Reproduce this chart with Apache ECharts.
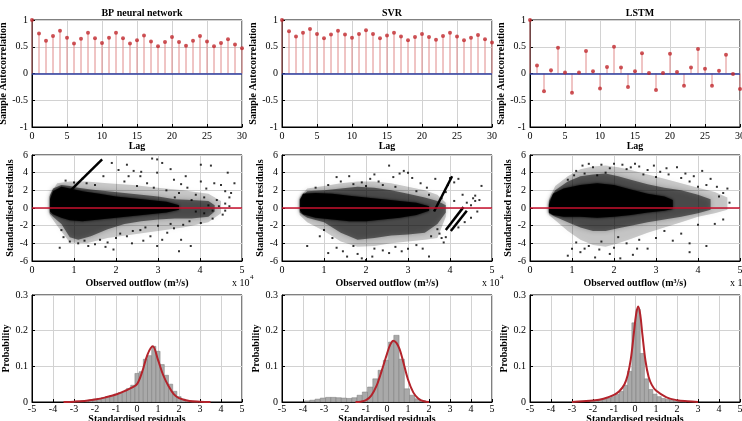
<!DOCTYPE html>
<html>
<head>
<meta charset="utf-8">
<script src="https://cdn.jsdelivr.net/npm/echarts@6/dist/echarts.min.js"></script>
<style>
  html, body { margin: 0; padding: 0; background: #fff; }
  #main { width: 742px; height: 421px; }
</style>
</head>
<body>
<div id="main"></div>
<script>
// model names (panel titles)
const models = ['BP neural network', 'SVR', 'LSTM']

// row 1: sample autocorrelation by lag
const lags = [0,1,2,3,4,5,6,7,8,9,10,11,12,13,14,15,16,17,18,19,20,21,22,23,24,25,26,27,28,29,30]
const acfBP = [1,0.75,0.61,0.70,0.80,0.67,0.56,0.65,0.76,0.66,0.57,0.67,0.76,0.66,0.56,0.62,0.71,0.60,0.51,0.59,0.68,0.59,0.52,0.61,0.70,0.60,0.51,0.57,0.64,0.54,0.47]
const acfSVR = [1,0.79,0.69,0.76,0.83,0.74,0.66,0.73,0.80,0.73,0.67,0.74,0.81,0.74,0.66,0.71,0.76,0.69,0.62,0.68,0.74,0.68,0.63,0.70,0.76,0.69,0.62,0.67,0.72,0.64,0.58]
const acfLSTM = [1,0.15,-0.33,0.06,0.48,0.02,-0.36,0.02,0.42,0.04,-0.28,0.12,0.50,0.11,-0.25,0.04,0.38,0.01,-0.31,0.01,0.37,0.03,-0.23,0.11,0.46,0.09,-0.23,0.05,0.35,-0.01,-0.29]

// row 2: standardised residuals vs observed outflow (x 10^4)
// cloud envelopes: x, upper, lower (sparse / medium / dense)
const bpOuterX = [0.42,0.6,0.9,1.3,1.8,2.4,3.0,3.6,4.2,4.5]
const bpOuterHi = [1.5,2.8,3.0,3.0,2.8,2.6,2.3,2.0,1.6,0.8]
const bpOuterLo = [-0.8,-2.0,-3.9,-4.0,-3.4,-3.0,-2.6,-2.2,-1.6,-0.6]
const bpHaloX = [0.42,0.5,0.7,0.9,1.1,1.4,1.8,2.2,2.6,3.0,3.4,3.8,4.2,4.35]
const bpHaloHi = [1.3,2.2,2.6,2.5,2.3,2.1,1.9,1.7,1.5,1.3,1.0,0.9,0.8,0.3]
const bpHaloLo = [-0.6,-1.0,-1.8,-3.3,-3.6,-3.2,-2.4,-1.8,-1.5,-1.3,-1.2,-1.2,-1.0,-0.4]
const bpCoreX = [0.43,0.5,0.7,0.9,1.2,1.6,2.0,2.4,2.8,3.2,3.5]
const bpCoreHi = [1.0,1.9,2.4,2.2,1.9,1.6,1.3,1.1,0.9,0.7,0.3]
const bpCoreLo = [-0.4,-0.7,-1.1,-1.4,-1.5,-1.3,-1.1,-0.9,-0.7,-0.5,-0.2]
const bpStreaks = [[[0.92,2.0],[1.67,5.5]]]
const bpPts = [[2.26,4.9],[2.86,5.6],[2.98,5.5],[3.1,5.1],[4.02,4.9],[4.26,4.8],[1.9,5.1],[4.66,4.0],[4.82,2.8],[4.5,2.6],[4.74,1.7],[3.66,3.6],[3.38,3.2],[2.98,4.0],[2.58,3.6],[2.74,2.8],[2.42,4.2],[1.7,3.6],[2.06,4.3],[3.7,2.3],[4.02,3.0],[4.34,2.8],[2.2,3.0],[2.5,2.5],[2.9,2.3],[3.2,2.0],[3.5,1.7],[3.9,1.5],[4.1,1.2],[4.4,0.9],[4.6,0.5],[4.7,1.2],[4.2,0.3],[4.3,-0.3],[4.1,-0.6],[3.9,-0.4],[3.75,-1.5],[3.6,-1.9],[3.3,-1.8],[3.0,-2.0],[2.7,-2.2],[2.4,-2.6],[2.1,-2.9],[1.8,-3.9],[0.66,-4.5],[1.34,-4.3],[1.94,-4.7],[2.38,-4.0],[2.98,-4.3],[3.5,-4.9],[3.78,-4.3],[2.82,-3.2],[3.22,-2.8],[3.38,-2.3],[4.02,-1.7],[4.54,-0.75],[2.58,-2.5],[2.26,-3.2],[1.62,-3.6],[1.1,-4.0],[0.9,-3.8],[1.5,-4.1],[3.1,-3.6],[2.0,-3.4],[4.45,0.2],[4.6,-0.3],[0.8,3.1],[1.0,2.9],[1.3,2.8],[1.5,2.6],[3.4,1.2],[3.8,0.9],[1.2,3.3],[2.3,3.6],[2.6,4.1],[3.3,4.4],[3.55,2.7],[4.15,2.2],[4.6,1.9],[4.7,0.2],[4.3,-1.2],[3.55,-3.6],[2.65,-3.7],[1.75,-4.4],[1.25,-3.7],[0.75,-3.3],[0.7,-2.5]]

const svrOuterX = [0.42,0.6,1.0,1.4,1.8,2.2,2.6,3.0,3.4,3.7,3.9]
const svrOuterHi = [1.2,2.2,2.5,2.8,3.0,3.0,2.8,2.4,2.0,1.5,0.6]
const svrOuterLo = [-0.8,-1.6,-2.6,-3.8,-4.4,-4.3,-4.0,-3.8,-3.6,-3.4,-1.0]
const svrHaloX = [0.42,0.6,1.0,1.4,1.8,2.2,2.6,3.0,3.4,3.7,3.9]
const svrHaloHi = [1.0,1.9,2.0,2.2,2.4,2.3,2.0,1.6,1.2,0.8,0.3]
const svrHaloLo = [-0.5,-1.1,-1.6,-2.8,-3.6,-3.4,-3.1,-3.0,-2.8,-1.8,-0.5]
const svrCoreX = [0.43,0.5,0.8,1.2,1.6,2.0,2.4,2.8,3.2,3.5]
const svrCoreHi = [0.9,1.6,1.7,1.6,1.4,1.2,1.0,0.8,0.6,0.2]
const svrCoreLo = [-0.3,-0.7,-1.1,-1.3,-1.5,-1.5,-1.3,-1.1,-0.8,-0.3]
const svrStreaks = [[[3.62,-0.4],[4.05,3.6]], [[3.9,-2.5],[4.32,0.1]], [[4.02,-2.6],[4.4,-0.3]]]
const svrPts = [[0.8,2.3],[1.3,3.5],[1.6,3.6],[1.9,2.9],[2.1,3.3],[2.3,3.0],[2.55,4.8],[2.65,3.5],[2.8,3.9],[2.9,4.2],[3.0,4.0],[3.1,3.4],[3.3,2.8],[3.45,2.3],[3.65,3.3],[4.0,3.4],[4.2,3.3],[4.6,1.4],[4.7,0.9],[4.75,2.5],[4.55,1.1],[4.4,0.6],[3.9,1.8],[1.1,2.6],[1.7,2.7],[2.0,2.5],[2.4,2.6],[2.7,2.4],[3.2,1.9],[3.5,1.5],[3.8,1.1],[4.1,0.8],[4.3,1.5],[4.5,0.3],[4.65,-0.4],[4.5,-1.1],[4.2,-2.2],[0.6,-4.3],[1.1,-5.1],[1.3,-4.5],[1.55,-5.5],[1.8,-5.2],[1.9,-5.7],[2.0,-5.9],[2.15,-5.5],[2.4,-4.8],[2.7,-4.4],[3.0,-4.6],[3.2,-4.2],[3.5,-5.5],[3.85,-3.9],[3.9,-3.3],[1.7,-4.3],[2.2,-4.6],[1.0,-2.5],[0.9,-3.2],[3.75,-2.9],[3.8,-3.4],[3.7,-2.4],[3.55,-3.2],[1.45,-4.9],[2.55,-5.1],[2.85,-4.9],[3.35,-4.6],[1.2,-3.4],[1.4,3.0],[2.2,3.8],[3.95,2.6],[4.1,2.9],[4.35,-1.6],[4.6,0.8]]

const lstmOuterX = [0.45,0.6,0.9,1.2,1.5,1.8,2.1,2.4,2.8,3.2,3.6,4.0,4.4,4.7]
const lstmOuterHi = [1.0,2.5,3.6,4.4,4.7,4.8,4.6,4.3,3.8,3.3,2.8,2.3,1.8,1.2]
const lstmOuterLo = [-0.8,-1.4,-2.6,-3.6,-4.2,-4.4,-4.0,-3.5,-2.8,-2.2,-1.6,-1.0,-0.6,-0.2]
const lstmHaloX = [0.45,0.6,0.9,1.2,1.5,1.8,2.1,2.4,2.8,3.2,3.6,4.0,4.3]
const lstmHaloHi = [0.8,2.0,3.0,3.6,3.8,3.9,3.6,3.2,2.7,2.3,2.0,1.5,1.0]
const lstmHaloLo = [-0.6,-1.0,-1.6,-2.2,-2.6,-2.6,-2.3,-2.0,-1.6,-1.3,-1.0,-0.6,-0.2]
const lstmCoreX = [0.45,0.55,0.8,1.2,1.6,2.0,2.4,2.8,3.2,3.4]
const lstmCoreHi = [0.4,1.6,2.2,2.6,2.8,2.6,2.1,1.6,1.3,0.9]
const lstmCoreLo = [-0.5,-0.8,-1.0,-1.0,-1.1,-1.0,-0.8,-0.5,-0.3,-0.1]
const lstmStreaks = []
const lstmPts = [[0.9,3.2],[1.1,4.2],[1.25,4.8],[1.4,5.0],[1.5,4.6],[1.7,4.9],[1.9,4.5],[2.0,5.0],[2.2,4.9],[2.3,4.4],[2.5,5.0],[2.6,4.7],[2.8,4.3],[2.95,4.8],[3.1,4.1],[3.3,3.8],[3.5,4.6],[3.6,3.4],[3.8,3.0],[4.1,4.2],[4.2,2.6],[4.45,2.4],[4.6,1.7],[4.7,2.2],[4.75,0.6],[4.5,1.3],[4.0,2.4],[3.9,3.6],[3.0,3.5],[2.7,3.8],[1.3,3.9],[1.6,3.7],[1.8,4.0],[0.9,-5.4],[1.1,-3.9],[1.2,-5.0],[1.4,-4.3],[1.55,-5.6],[1.7,-3.8],[1.9,-5.2],[2.0,-4.5],[2.15,-5.7],[2.3,-4.0],[2.45,-5.3],[2.6,-3.6],[2.8,-4.6],[3.0,-3.4],[3.2,-2.6],[3.4,-3.7],[3.8,-4.0],[3.8,-5.0],[4.2,-4.3],[4.4,-1.8],[4.6,-1.3],[1.0,-4.6],[2.1,-3.3],[1.65,-4.7],[1.05,3.7],[2.4,4.6],[3.25,4.5],[3.7,3.9],[4.3,3.3],[2.55,-4.6],[1.3,-4.6],[3.6,-2.9],[4.0,-1.9]]

// row 3: histograms of standardised residuals + fitted density
const bpBinW = 0.2
const bpBinX = [-3.0,-2.8,-2.6,-2.4,-2.2,-2.0,-1.8,-1.6,-1.4,-1.2,-1.0,-0.8,-0.6,-0.4,-0.2,0.0,0.2,0.4,0.6,0.8,1.0,1.2,1.4,1.6,1.8,2.0,2.2,2.4,2.6,2.8]
const bpBinP = [0.001,0.002,0.003,0.004,0.006,0.008,0.010,0.012,0.015,0.018,0.022,0.026,0.030,0.038,0.047,0.080,0.085,0.120,0.130,0.156,0.142,0.105,0.075,0.050,0.030,0.015,0.008,0.004,0.002,0.001]
const bpCurveX = [-3.5,-3,-2.5,-2,-1.5,-1,-0.5,-0.25,0,0.25,0.5,0.75,1,1.25,1.5,1.75,2,2.5,3,3.5]
const bpCurveY = [0,0.001,0.003,0.007,0.013,0.021,0.033,0.040,0.050,0.085,0.133,0.156,0.118,0.075,0.045,0.022,0.011,0.003,0.001,0]

const svrBinW = 0.25
const svrBinX = [-3.8,-3.55,-3.3,-3.05,-2.8,-2.55,-2.3,-2.05,-1.8,-1.55,-1.3,-1.05,-0.8,-0.55,-0.3,-0.05,0.2,0.45,0.7,0.95,1.2,1.45,1.7]
const svrBinP = [0.003,0.005,0.008,0.011,0.013,0.013,0.012,0.011,0.010,0.012,0.019,0.028,0.042,0.065,0.089,0.117,0.168,0.187,0.120,0.037,0.019,0.009,0.004]
const svrCurveX = [-1.5,-1.25,-1,-0.75,-0.5,-0.25,0,0.15,0.3,0.45,0.6,0.75,1,1.25,1.5,1.75,2]
const svrCurveY = [0,0.001,0.005,0.018,0.045,0.088,0.135,0.160,0.172,0.166,0.148,0.118,0.063,0.027,0.009,0.002,0]

const lstmBinW = 0.2
const lstmBinX = [-2.05,-1.85,-1.65,-1.45,-1.25,-1.05,-0.85,-0.65,-0.45,-0.25,-0.05,0.15,0.35,0.55,0.75,0.95,1.15,1.35,1.55,1.75,1.95,2.15,2.35]
const lstmBinP = [0.003,0.004,0.006,0.008,0.011,0.015,0.021,0.030,0.047,0.086,0.222,0.260,0.136,0.065,0.035,0.022,0.015,0.010,0.007,0.005,0.003,0.002,0.001]
const lstmCurveX = [-3,-2.5,-2,-1.5,-1,-0.75,-0.5,-0.35,-0.2,-0.05,0.05,0.15,0.25,0.35,0.5,0.65,0.8,1,1.5,2,2.5,3]
const lstmCurveY = [0,0.002,0.004,0.009,0.020,0.030,0.050,0.075,0.120,0.195,0.245,0.268,0.245,0.190,0.115,0.070,0.048,0.032,0.013,0.005,0.002,0]

const FF = 'Liberation Serif'
const colLeft = [32, 282, 530]
const colW = 210
const rowTop = [20, 155, 295]
const rowH = [107, 106, 107]

function zip(a, b) { return a.map((v, i) => [v, b[i]]) }

function axis(min, max, interval, extra) {
  return Object.assign({
    type: 'value', min, max, interval,
    axisLine: { show: true, onZero: false, lineStyle: { color: '#000', width: 1 } },
    axisTick: { show: true, inside: true, length: 3, lineStyle: { color: '#000' } },
    axisLabel: { color: '#000', fontFamily: FF, fontSize: 10, margin: 4 },
    splitLine: { show: true, lineStyle: { color: '#d2d2d2', width: 1 } },
    nameLocation: 'middle',
    nameTextStyle: { color: '#000', fontFamily: FF, fontSize: 10, fontWeight: 'bold' }
  }, extra || {})
}

const grids = [], xAxes = [], yAxes = [], series = [], titles = [], graphics = []
const acfs = [acfBP, acfSVR, acfLSTM]
const scat = [
  { ox: bpOuterX, oh: bpOuterHi, ol: bpOuterLo, hx: bpHaloX, hh: bpHaloHi, hl: bpHaloLo, cx: bpCoreX, ch: bpCoreHi, cl: bpCoreLo, st: bpStreaks, pts: bpPts },
  { ox: svrOuterX, oh: svrOuterHi, ol: svrOuterLo, hx: svrHaloX, hh: svrHaloHi, hl: svrHaloLo, cx: svrCoreX, ch: svrCoreHi, cl: svrCoreLo, st: svrStreaks, pts: svrPts },
  { ox: lstmOuterX, oh: lstmOuterHi, ol: lstmOuterLo, hx: lstmHaloX, hh: lstmHaloHi, hl: lstmHaloLo, cx: lstmCoreX, ch: lstmCoreHi, cl: lstmCoreLo, st: lstmStreaks, pts: lstmPts }
]
const hists = [
  { w: bpBinW, x: bpBinX, p: bpBinP, cx: bpCurveX, cy: bpCurveY },
  { w: svrBinW, x: svrBinX, p: svrBinP, cx: svrCurveX, cy: svrCurveY },
  { w: lstmBinW, x: lstmBinX, p: lstmBinP, cx: lstmCurveX, cy: lstmCurveY }
]

// filled cloud between an upper and lower envelope, soft edge
function band(gi, xs, hi, lo, color, blur) {
  return {
    type: 'custom', xAxisIndex: gi, yAxisIndex: gi, silent: true, z: 2,
    data: [[xs[0], lo[0]]],
    renderItem: (params, api) => {
      const pts = []
      for (let i = 0; i < xs.length; i++) pts.push(api.coord([xs[i], hi[i]]))
      for (let i = xs.length - 1; i >= 0; i--) pts.push(api.coord([xs[i], lo[i]]))
      return { type: 'polygon', shape: { points: pts }, style: { fill: color, shadowBlur: blur, shadowColor: color } }
    }
  }
}

for (let r = 0; r < 3; r++) {
  for (let c = 0; c < 3; c++) {
    const gi = r * 3 + c
    grids.push({ left: colLeft[c], top: rowTop[r], width: colW, height: rowH[r], outerBoundsMode: 'none', containLabel: false, show: true, borderColor: '#000', borderWidth: 1, backgroundColor: '#fff' })
    if (r === 0) {
      xAxes.push(axis(0, 30, 5, { gridIndex: gi, name: 'Lag', nameGap: 13 }))
      yAxes.push(axis(-1, 1, 0.5, { gridIndex: gi, name: 'Sample Autocorrelation', nameGap: 20 }))
      const data = zip(lags, acfs[c])
      series.push({
        type: 'custom', xAxisIndex: gi, yAxisIndex: gi, silent: true, data,
        renderItem: (params, api) => {
          const p0 = api.coord([api.value(0), 0]), p1 = api.coord([api.value(0), api.value(1)])
          return { type: 'line', shape: { x1: p0[0], y1: p0[1], x2: p1[0], y2: p1[1] }, style: { stroke: '#e08a8a', lineWidth: 1 } }
        },
        markLine: { silent: true, symbol: 'none', label: { show: false }, lineStyle: { color: '#2b3a9e', width: 1.5, type: 'solid' }, data: [{ yAxis: 0 }] }
      })
      series.push({ type: 'scatter', xAxisIndex: gi, yAxisIndex: gi, silent: true, data, symbolSize: 4, itemStyle: { color: '#c0282d' }, z: 5 })
      titles.push({ text: models[c], left: colLeft[c] + colW / 2, textAlign: 'center', top: 3, textStyle: { fontFamily: FF, fontSize: 10, fontWeight: 'bold', color: '#000' } })
    } else if (r === 1) {
      const s = scat[c]
      xAxes.push(axis(0, 5, 1, { gridIndex: gi, name: 'Observed outflow (m³/s)', nameGap: 17 }))
      yAxes.push(axis(-6, 6, 2, { gridIndex: gi, name: 'Standardised residuals', nameGap: 13 }))
      series.push(band(gi, s.ox, s.oh, s.ol, 'rgba(0,0,0,0.2)', 6))
      series.push(band(gi, s.hx, s.hh, s.hl, 'rgba(0,0,0,0.5)', 5))
      series.push(band(gi, s.cx, s.ch, s.cl, 'rgba(0,0,0,0.95)', 3))
      s.st.forEach(seg => series.push({ type: 'line', xAxisIndex: gi, yAxisIndex: gi, silent: true, data: seg, symbol: 'none', lineStyle: { color: '#000', width: 2.5 }, z: 3 }))
      series.push({
        type: 'scatter', xAxisIndex: gi, yAxisIndex: gi, silent: true, data: s.pts, symbol: 'rect', symbolSize: 2, itemStyle: { color: '#000' }, z: 4,
        markLine: { silent: true, symbol: 'none', label: { show: false }, lineStyle: { color: '#c8102e', width: 1.5, type: 'solid' }, data: [{ yAxis: 0 }], z: 6 }
      })
      graphics.push({ type: 'text', left: colLeft[c] + 200, top: 278, style: { text: 'x 10', font: '10px "Liberation Serif"', fill: '#000' } })
      graphics.push({ type: 'text', left: colLeft[c] + 218, top: 274, style: { text: '4', font: '7px "Liberation Serif"', fill: '#000' } })
    } else {
      const h = hists[c]
      xAxes.push(axis(-5, 5, 1, { gridIndex: gi, name: 'Standardised residuals', nameGap: 11, axisLabel: { color: '#000', fontFamily: FF, fontSize: 10, margin: 2 } }))
      yAxes.push(axis(0, 0.3, 0.1, { gridIndex: gi, name: 'Probability', nameGap: 17 }))
      series.push({
        type: 'custom', xAxisIndex: gi, yAxisIndex: gi, silent: true, data: zip(h.x, h.p),
        renderItem: (params, api) => {
          const a = api.coord([api.value(0) - h.w / 2, api.value(1)]), b = api.coord([api.value(0) + h.w / 2, 0])
          return { type: 'rect', shape: { x: a[0], y: a[1], width: b[0] - a[0], height: b[1] - a[1] }, style: { fill: '#a9a9a9', stroke: '#7a7a7a', lineWidth: 0.5 } }
        }
      })
      series.push({ type: 'line', xAxisIndex: gi, yAxisIndex: gi, silent: true, data: zip(h.cx, h.cy), smooth: 0.35, symbol: 'none', lineStyle: { color: '#b3232b', width: 2 }, z: 5 })
    }
  }
}

const chart = echarts.init(document.getElementById('main'), null, { renderer: 'canvas' })
chart.setOption({
  animation: false,
  backgroundColor: '#fff',
  textStyle: { fontFamily: FF },
  title: titles,
  grid: grids,
  xAxis: xAxes,
  yAxis: yAxes,
  series,
  graphic: graphics
})
</script>
</body>
</html>
